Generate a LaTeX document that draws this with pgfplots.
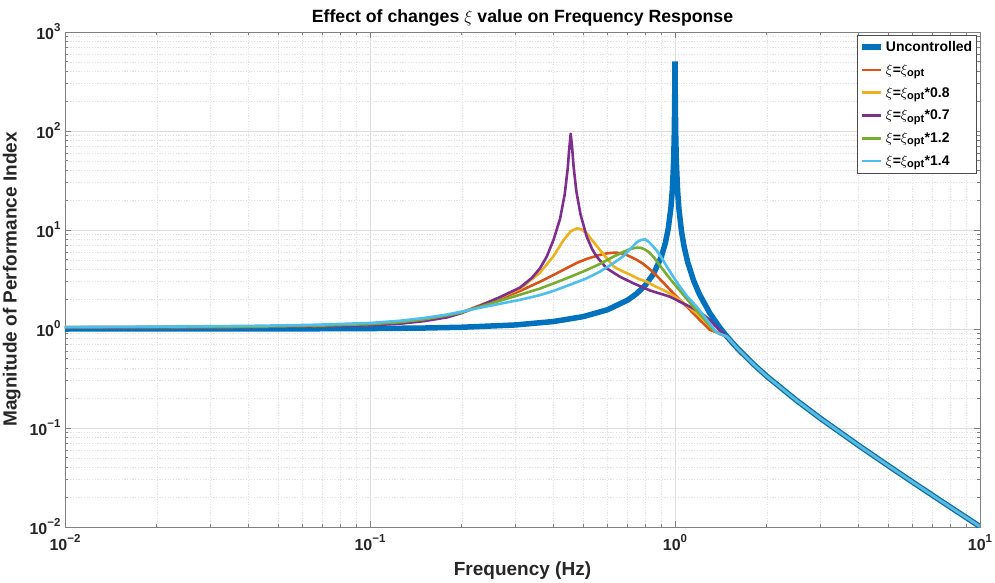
\documentclass[border=0pt]{standalone}
\usepackage{fontspec}
\setmainfont{Liberation Sans}
\usepackage{pgfplots}
\pgfplotsset{compat=1.18}
\definecolor{mblue}{rgb}{0,0.447,0.741}
\definecolor{morange}{rgb}{0.850,0.325,0.098}
\definecolor{myellow}{rgb}{0.929,0.694,0.125}
\definecolor{mpurple}{rgb}{0.494,0.184,0.556}
\definecolor{mgreen}{rgb}{0.466,0.674,0.188}
\definecolor{mcyan}{rgb}{0.301,0.745,0.933}
\newcommand{\subopt}{$\xi_{\mbox{\fontsize{11}{12}\selectfont\bfseries opt}}$}
\newcommand{\tp}[1]{10\raisebox{0.5em}{\fontsize{11.5}{12}\selectfont #1}}
\begin{document}
\begin{tikzpicture}
\useasboundingbox (0,0) rectangle (995pt,582pt);
\begin{axis}[
  at={(65pt,55pt)}, anchor=south west,
  scale only axis, width=915pt, height=495pt,
  xmode=log, ymode=log,
  xmin=0.01, xmax=10, ymin=0.01, ymax=1000,
  xtick={0.01,0.1,1,10},
  xticklabels={{\tp{−2}},{\tp{−1}},{\tp{0}},{\tp{1}}},
  ytick={0.01,0.1,1,10,100,1000},
  yticklabels={{\tp{−2}},{\tp{−1}},{\tp{0}},{\tp{1}},{\tp{2}},{\tp{3}}},
  tick label style={font=\fontsize{16}{18}\selectfont\bfseries, text=black!85},
  xticklabel style={yshift=-4pt},
  yticklabel style={xshift=-1pt},
  grid=both,
  major grid style={black!13, line width=0.7pt},
  minor grid style={black!11, line width=0.6pt, dash pattern=on 1.2pt off 1.5pt},
  tick align=inside,
  major tick length=6pt, minor tick length=3.5pt,
  axis line style={black!50, line width=0.8pt},
  every tick/.style={black!50, line width=0.7pt},
  title={Effect of changes $\xi$ value on Frequency Response},
  title style={font=\fontsize{17.7}{20}\selectfont\bfseries, yshift=-4pt},
  xlabel={Frequency (Hz)},
  ylabel={Magnitude of Performance Index},
  label style={font=\fontsize{19}{21}\selectfont\bfseries, text=black!85},
  xlabel style={yshift=-4pt},
  ylabel style={yshift=2pt},
  legend cell align=left,
  legend style={at={(rel axis cs:0.9962,0.994)}, anchor=north east,
    draw=black!70, line width=0.6pt, fill=white,
    font=\fontsize{14}{16}\selectfont\bfseries,
    row sep=7.3pt, inner xsep=2pt, inner ysep=4pt},
  legend image code/.code={\draw[#1] (0pt,0pt) -- (19pt,0pt);},
  every axis plot/.append style={line join=round},
]
\addplot[mblue, line width=5.5pt, line join=bevel] coordinates {
(0.01,1.0001) (0.02,1.0004) (0.05,1.0025) (0.1,1.0101) (0.15,1.0230) (0.2,1.0417)
(0.3,1.0989) (0.4,1.1905) (0.5,1.3333) (0.6,1.5625) (0.7,1.9608) (0.75,2.2857)
(0.8,2.7778) (0.85,3.6036) (0.9,5.2632) (0.93,7.402) (0.95,10.256) (0.97,16.92)
(0.98,25.25) (0.99,50.0) (0.995,98.3) (0.998,224) (0.999,354) (1.0,505)
(1.001,353) (1.002,223) (1.005,97.8) (1.01,49.7) (1.02,24.75) (1.03,16.42)
(1.05,9.756) (1.07,6.901) (1.1,4.762) (1.15,3.101) (1.2,2.273) (1.3,1.449)
(1.4,1.0417) (1.48,0.8401) (1.6,0.6410) (1.8,0.4464) (2,0.3333) (2.5,0.1905)
(3,0.125) (4,0.06667) (5,0.04167) (6,0.02857) (7,0.02083) (8,0.01587) (10,0.010101)
};
\addlegendentry{Uncontrolled}
\addplot[morange, line width=2.6pt] coordinates {
(0.01,1.043) (0.02,1.046) (0.04,1.053) (0.0636,1.07) (0.1,1.11) (0.125,1.16)
(0.15,1.24) (0.1789,1.36) (0.2,1.48) (0.2294,1.72) (0.2668,2.02) (0.3103,2.42)
(0.3608,3.0) (0.399,3.5) (0.45,4.25) (0.48,4.7) (0.5134,5.1) (0.56,5.55) (0.6,5.82)
(0.64,5.92) (0.68,5.75) (0.7117,5.4) (0.749,5.0) (0.787,4.55) (0.828,4.0)
(0.871,3.45) (0.92,2.9) (0.987,2.3) (1.05,1.9) (1.12,1.56) (1.21,1.22)
(1.302,0.98) (1.40,0.90) (1.48,0.8401) (1.6,0.6410) (1.8,0.4464) (2,0.3333)
(2.5,0.1905) (3,0.125) (4,0.06667) (5,0.04167) (6,0.02857) (7,0.02083) (8,0.01587) (10,0.010101)
};
\addlegendentry{$\xi$=\subopt}
\addplot[myellow, line width=2.6pt] coordinates {
(0.01,1.042) (0.02,1.044) (0.04,1.05) (0.0636,1.065) (0.1,1.10) (0.125,1.15)
(0.15,1.23) (0.1789,1.35) (0.2,1.47) (0.2294,1.74) (0.2668,2.08) (0.3103,2.55)
(0.3608,3.7) (0.399,5.4) (0.43,7.8) (0.455,9.7) (0.478,10.4) (0.495,10.1)
(0.5134,9.26) (0.54,7.6) (0.5676,6.28) (0.60,5.1) (0.6277,4.3) (0.67,3.85)
(0.7117,3.55) (0.76,3.2) (0.8076,3.01) (0.86,2.7) (0.9154,2.48) (0.97,2.25)
(1.0385,1.96) (1.10,1.70) (1.178,1.44) (1.26,1.18) (1.335,0.98) (1.40,0.90)
(1.48,0.8401) (1.6,0.6410) (1.8,0.4464) (2,0.3333) (2.5,0.1905) (3,0.125)
(4,0.06667) (5,0.04167) (6,0.02857) (7,0.02083) (8,0.01587) (10,0.010101)
};
\addlegendentry{$\xi$=\subopt*0.8}
\addplot[mpurple, line width=2.6pt] coordinates {
(0.01,1.040) (0.02,1.042) (0.04,1.048) (0.0636,1.06) (0.1,1.09) (0.125,1.13)
(0.15,1.20) (0.1789,1.31) (0.2,1.45) (0.2294,1.72) (0.2668,2.10) (0.3103,2.62)
(0.34,3.3) (0.3608,4.1) (0.38,5.4) (0.40,8.0) (0.42,13.0) (0.435,23)
(0.445,42) (0.45,66) (0.455,94) (0.46,68) (0.465,44) (0.475,24.5) (0.49,14.4)
(0.5134,8.6) (0.535,6.4) (0.5537,5.4) (0.5971,4.1) (0.6603,3.37) (0.7296,2.90)
(0.8279,2.45) (0.9629,2.12) (1.05,1.85) (1.12,1.68) (1.22,1.45) (1.302,1.23)
(1.40,0.97) (1.48,0.8401) (1.6,0.6410) (1.8,0.4464) (2,0.3333) (2.5,0.1905)
(3,0.125) (4,0.06667) (5,0.04167) (6,0.02857) (7,0.02083) (8,0.01587) (10,0.010101)
};
\addlegendentry{$\xi$=\subopt*0.7}
\addplot[mgreen, line width=2.6pt] coordinates {
(0.01,1.043) (0.02,1.047) (0.04,1.055) (0.0636,1.075) (0.1,1.12) (0.125,1.17)
(0.15,1.25) (0.1789,1.37) (0.2,1.47) (0.2294,1.68) (0.2668,1.93) (0.3103,2.22)
(0.3608,2.56) (0.399,2.88) (0.45,3.33) (0.5134,3.94) (0.5676,4.55) (0.6277,5.37)
(0.68,6.05) (0.7117,6.4) (0.74,6.6) (0.765,6.65) (0.79,6.45) (0.82,6.0)
(0.849,5.37) (0.88,4.65) (0.9154,3.94) (0.96,3.25) (1.013,2.67) (1.08,2.1)
(1.148,1.68) (1.24,1.28) (1.335,0.98) (1.40,0.89) (1.48,0.8401) (1.6,0.6410)
(1.8,0.4464) (2,0.3333) (2.5,0.1905) (3,0.125) (4,0.06667) (5,0.04167)
(6,0.02857) (7,0.02083) (8,0.01587) (10,0.010101)
};
\addlegendentry{$\xi$=\subopt*1.2}
\addplot[mcyan, line width=2.6pt] coordinates {
(0.01,1.045) (0.02,1.055) (0.04,1.075) (0.0636,1.10) (0.1,1.15) (0.125,1.21)
(0.15,1.29) (0.1789,1.40) (0.2,1.50) (0.2294,1.64) (0.2668,1.80) (0.3103,1.97)
(0.3608,2.2) (0.399,2.42) (0.45,2.78) (0.5134,3.25) (0.5676,3.8) (0.6277,4.61)
(0.68,5.5) (0.7117,6.4) (0.749,7.5) (0.775,7.95) (0.797,8.05) (0.82,7.6)
(0.845,6.9) (0.871,6.2) (0.905,5.2) (0.939,4.3) (0.985,3.4) (1.0385,2.67)
(1.10,2.1) (1.178,1.68) (1.27,1.25) (1.37,0.92) (1.48,0.8401) (1.6,0.6410)
(1.8,0.4464) (2,0.3333) (2.5,0.1905) (3,0.125) (4,0.06667) (5,0.04167)
(6,0.02857) (7,0.02083) (8,0.01587) (10,0.010101)
};
\addlegendentry{$\xi$=\subopt*1.4}
\end{axis}
\end{tikzpicture}
\end{document}
